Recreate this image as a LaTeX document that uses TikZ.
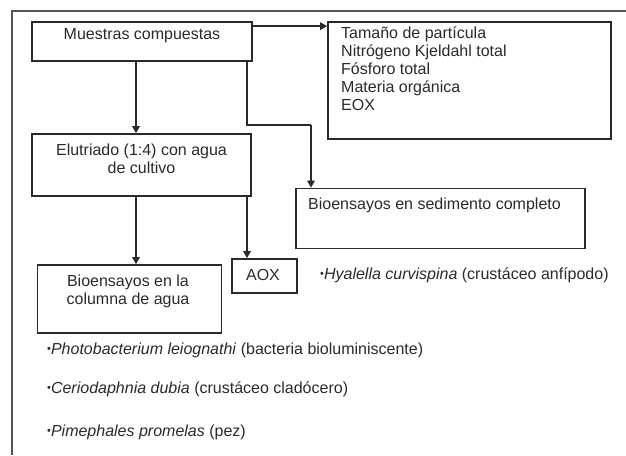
\documentclass[tikz,border=0pt]{standalone}
\usepackage{fontspec}
\setmainfont{Liberation Sans}
\usetikzlibrary{arrows.meta,calc}
\definecolor{ink}{HTML}{2A2A2A}
\definecolor{frame}{HTML}{555555}
\tikzset{
  box/.style={draw=ink, line width=1.7pt, rectangle, inner sep=0pt},
  txt/.style={text=ink, inner sep=0pt, font=\fontsize{16}{18}\selectfont},
  arr/.style={draw=ink, line width=1.6pt, -{Triangle[width=7.5pt,length=7pt]}},
  ln/.style={draw=ink, line width=1.6pt},
}
\newcommand{\bul}{\raisebox{0.18ex}{\fontsize{11}{11}\selectfont •}}
\begin{document}
\begin{tikzpicture}[x=1pt,y=-1pt]
\useasboundingbox (0,0) rectangle (626,455);
% outer frame (partial)
\draw[frame, line width=1.4pt] (626,11) -- (12,11) -- (12,455);

% boxes
\node[box, minimum width=220pt, minimum height=39pt] (b1) at (142,41.5) {};
\node[box, minimum width=219pt, minimum height=62pt] (b2) at (141.5,165) {};
\node[box, minimum width=283pt, minimum height=117pt] (b3) at (469.5,80.5) {};
\node[box, minimum width=289pt, minimum height=60pt] (b4) at (440.5,218.5) {};
\node[box, minimum width=184pt, minimum height=68pt] (b5) at (129.5,299) {};
\node[box, minimum width=65pt, minimum height=34pt] (aox) at (264.5,276) {};

% texts
\node[txt] (t1) at (142,36) {Muestras compuestas};
\node[txt, align=center] (t2) at (141.5,159) {Elutriado (1:4) con agua\\de cultivo};
\node[txt, align=left, anchor=north west] (t3) at (341,27) {Tamaño de partícula\\Nitrógeno Kjeldahl total\\Fósforo total\\Materia orgánica\\EOX};
\node[txt, anchor=west] (t4) at (308,205) {Bioensayos en sedimento completo};
\node[txt, align=center] (t5) at (128,291) {Bioensayos en la\\columna de agua};
\node[txt] (t6) at (263,275) {AOX};
\node[txt, anchor=west] (h1) at (320,275) {\bul\textit{Hyalella curvispina} (crustáceo anfípodo)};
\node[txt, anchor=west] (p1) at (47,350) {\bul\textit{Photobacterium leiognathi} (bacteria bioluminiscente)};
\node[txt, anchor=west] (p2) at (47,389) {\bul\textit{Ceriodaphnia dubia} (crustáceo cladócero)};
\node[txt, anchor=west] (p3) at (47,432) {\bul\textit{Pimephales promelas} (pez)};

% connectors
\coordinate (c1) at ([yshift=-5pt]b1.north east);
\draw[arr] (c1) -- (c1 -| b3.west);
\coordinate (c2) at (136,61);
\draw[arr] (c2) -- (c2 |- b2.north);
\coordinate (c3) at (247,61);
\coordinate (c4) at (247,125);
\coordinate (c5) at (311,125);
\draw[ln] (c3) -- (c4) -- (c5);
\draw[arr] (c5) -- (c5 |- b4.north);
\coordinate (c6) at (136,196);
\draw[arr] (c6) -- (c6 |- b5.north);
\coordinate (c7) at (247,196);
\draw[arr] (c7) -- (c7 |- aox.north);
\end{tikzpicture}
\end{document}
